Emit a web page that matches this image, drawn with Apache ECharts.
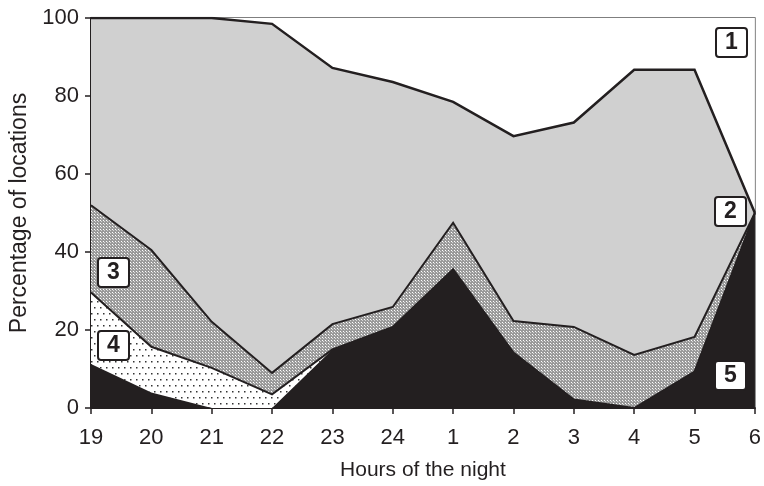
<!DOCTYPE html>
<html>
<head>
<meta charset="utf-8">
<script src="https://cdn.jsdelivr.net/npm/echarts@6/dist/echarts.min.js"></script>
<style>html,body{margin:0;padding:0;background:#fff;}#c{width:764px;height:486px;}</style>
</head>
<body>
<div id="c"></div>
<script>
// Categories (hours of the night)
var hours = ['19','20','21','22','23','24','1','2','3','4','5','6'];
// Layer values (percent), bottom to top
var cat5 = [11.3, 4, 0, 0, 15, 20.8, 35.6, 14.2, 2.2, 0, 9.3, 50];
var cat4 = [18.3, 11.7, 10.3, 3.5, 0, 0, 0, 0, 0, 0, 0, 0];
var cat3 = [22.4, 24.8, 11.8, 5.5, 6.5, 5.1, 11.9, 8.1, 18.6, 13.6, 8.9, 0];
var cat2 = [48, 59.5, 77.9, 89.5, 65.7, 57.7, 31, 47.4, 52.4, 73.1, 68.5, 0];
var cat1 = [0, 0, 0, 1.5, 12.8, 16.4, 21.5, 30.3, 26.8, 13.3, 13.3, 50];
var yTicks = [0, 20, 40, 60, 80, 100];

var INK = '#231f20';
var FONT = '"Liberation Sans", Arial, sans-serif';

function makeHatch() {
  var c = document.createElement('canvas');
  c.width = 3; c.height = 3;
  var g = c.getContext('2d');
  g.fillStyle = '#9a9a9a'; g.fillRect(0, 0, 3, 3);
  g.fillStyle = '#ffffff'; g.fillRect(1, 1, 1, 1);
  g.fillStyle = '#d6d6d6'; g.fillRect(2, 2, 1, 1);
  return c;
}
function makeDots() {
  var c = document.createElement('canvas');
  c.width = 12; c.height = 12;
  var g = c.getContext('2d');
  g.fillStyle = '#ffffff'; g.fillRect(0, 0, 12, 12);
  g.fillStyle = '#333333';
  g.fillRect(1, 1, 1.5, 1.5); g.fillRect(7, 1, 1.5, 1.5);
  g.fillRect(4, 7, 1.5, 1.5); g.fillRect(10, 7, 1.5, 1.5);
  return c;
}

var chart = echarts.init(document.getElementById('c'), null, {renderer: 'canvas'});

function layer(data, fill, lineW, z) {
  return {
    type: 'line', stack: 'total', data: data, z: z,
    showSymbol: false, symbol: 'none', smooth: false,
    lineStyle: {color: INK, width: lineW, join: 'miter'},
    areaStyle: {color: fill, opacity: 1},
    emphasis: {disabled: true}, silent: true
  };
}

var boxes = [
  {t: '1', x: 716, y: 28},
  {t: '2', x: 715, y: 197},
  {t: '3', x: 98, y: 258},
  {t: '4', x: 98, y: 331},
  {t: '5', x: 715, y: 361}
];
var graphics = [];
boxes.forEach(function (b) {
  graphics.push({
    type: 'rect', z: 100,
    shape: {x: b.x, y: b.y, width: 31, height: 29, r: 3},
    style: {fill: '#fff', stroke: INK, lineWidth: 2}
  });
  graphics.push({
    type: 'text', z: 101,
    style: {text: b.t, x: b.x + 15.5, y: b.y + 15, align: 'center', verticalAlign: 'middle',
      font: 'bold 23px "Liberation Sans"', fill: INK}
  });
});

chart.setOption({
  animation: false,
  backgroundColor: '#fff',
  grid: {left: 91, right: 8, top: 18, bottom: 78, show: true, borderColor: '#555', borderWidth: 1.5},
  xAxis: {
    type: 'category', data: hours, boundaryGap: false,
    name: 'Hours of the night', nameLocation: 'middle', nameGap: 52,
    nameTextStyle: {fontFamily: FONT, fontSize: 21, color: INK},
    axisLine: {lineStyle: {color: INK, width: 2}},
    axisTick: {show: true, length: 6, lineStyle: {color: INK, width: 1.5}},
    axisLabel: {fontFamily: FONT, fontSize: 22, color: INK, margin: 19},
    splitLine: {show: false}
  },
  yAxis: {
    type: 'value', min: yTicks[0], max: yTicks[yTicks.length - 1], interval: 20,
    name: 'Percentage of locations', nameLocation: 'middle', nameGap: 60, nameRotate: 90,
    nameTextStyle: {fontFamily: FONT, fontSize: 23, color: INK},
    axisLine: {show: true, lineStyle: {color: INK, width: 2}},
    axisTick: {show: true, length: 6, lineStyle: {color: INK, width: 1.5}},
    axisLabel: {fontFamily: FONT, fontSize: 22, color: INK, margin: 12},
    splitLine: {show: false}
  },
  series: [
    layer(cat5, INK, 0, 15),
    layer(cat4, {image: makeDots(), repeat: 'repeat'}, 2, 14),
    layer(cat3, {image: makeHatch(), repeat: 'repeat'}, 2, 13),
    layer(cat2, '#d0d0d0', 2.5, 12),
    layer(cat1, '#ffffff', 0, 11)
  ],
  graphic: graphics
});
</script>
</body>
</html>
